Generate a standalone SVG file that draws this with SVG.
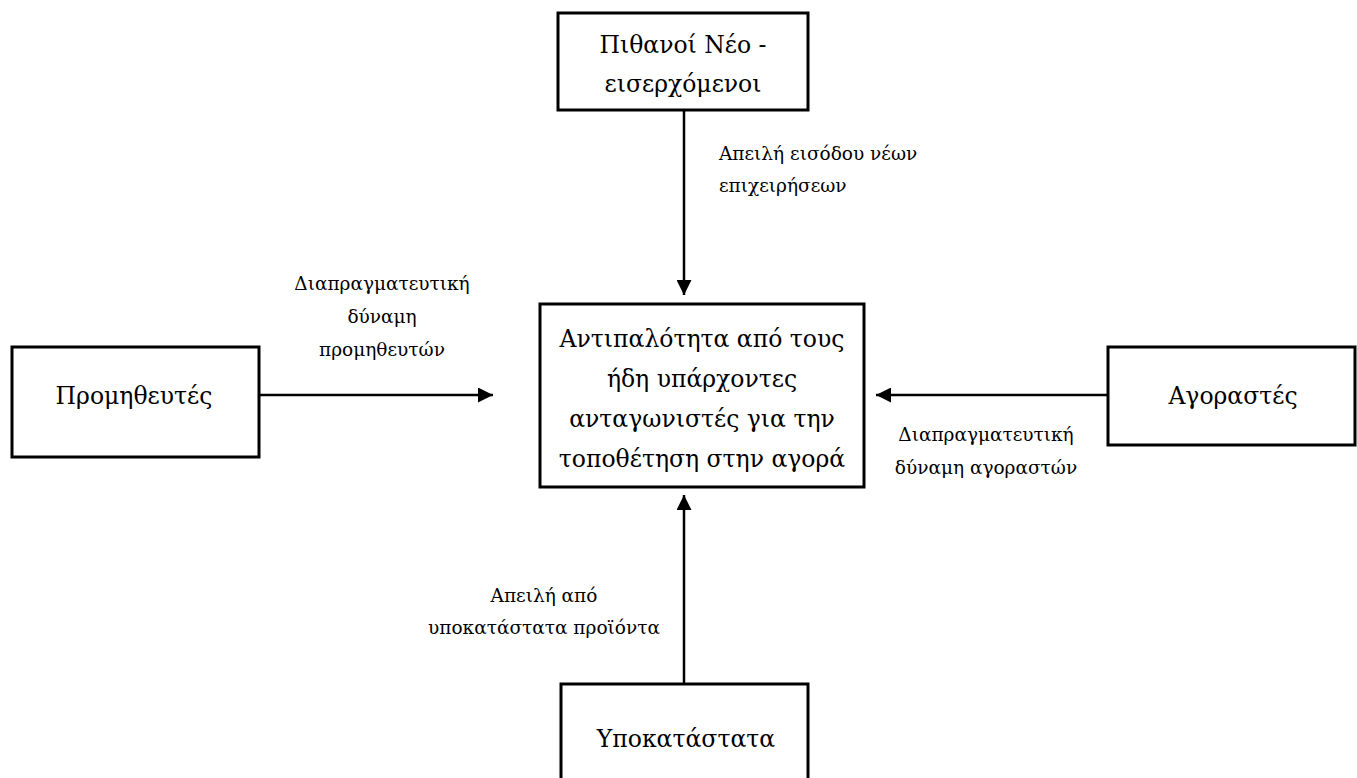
<svg xmlns="http://www.w3.org/2000/svg" width="1357" height="778" viewBox="0 0 1357 778">
<defs>
<style>
.box{fill:#fff;stroke:#000;stroke-width:3}
.nt{font-family:"DejaVu Serif","Liberation Serif",serif;font-size:23.5px;fill:#000;text-anchor:middle}
.lt{font-family:"DejaVu Serif","Liberation Serif",serif;font-size:18.5px;fill:#000}
.ln{stroke:#000;stroke-width:2.5;fill:none}
</style>
<marker id="ah" viewBox="0 0 10 10" refX="10" refY="5" markerWidth="6" markerHeight="6" markerUnits="strokeWidth" orient="auto">
<path d="M0,0 L10,5 L0,10 z" fill="#000"/>
</marker>
</defs>
<rect width="1357" height="778" fill="#fff"/>
<g id="connectors">
<line class="ln" x1="684" y1="110" x2="684" y2="295" marker-end="url(#ah)"/>
<line class="ln" x1="259" y1="395" x2="493" y2="395" marker-end="url(#ah)"/>
<line class="ln" x1="1108" y1="395" x2="876" y2="395" marker-end="url(#ah)"/>
<line class="ln" x1="684" y1="684" x2="684" y2="495" marker-end="url(#ah)"/>
<text class="lt" x="719" y="160">Απειλή εισόδου νέων</text>
<text class="lt" x="719" y="192">επιχειρήσεων</text>
<text class="lt" x="382" y="290" text-anchor="middle">Διαπραγματευτική</text>
<text class="lt" x="382" y="323" text-anchor="middle">δύναμη</text>
<text class="lt" x="382" y="356" text-anchor="middle">προμηθευτών</text>
<text class="lt" x="986" y="441" text-anchor="middle">Διαπραγματευτική</text>
<text class="lt" x="986" y="474" text-anchor="middle">δύναμη αγοραστών</text>
<text class="lt" x="544" y="602" text-anchor="middle">Απειλή από</text>
<text class="lt" x="544" y="634" text-anchor="middle">υποκατάστατα προϊόντα</text>
</g>
<g id="n-top">
<rect class="box" x="558" y="13" width="250" height="97"/>
<text class="nt" x="683" y="53">Πιθανοί Νέο -</text>
<text class="nt" x="683" y="92">εισερχόμενοι</text>
</g>
<g id="n-center">
<rect class="box" x="540" y="304" width="324" height="183"/>
<text class="nt" x="702" y="347">Αντιπαλότητα από τους</text>
<text class="nt" x="702" y="387">ήδη υπάρχοντες</text>
<text class="nt" x="702" y="427">ανταγωνιστές για την</text>
<text class="nt" x="702" y="467">τοποθέτηση στην αγορά</text>
</g>
<g id="n-left">
<rect class="box" x="12" y="347" width="247" height="110"/>
<text class="nt" x="134" y="404">Προμηθευτές</text>
</g>
<g id="n-right">
<rect class="box" x="1108" y="347" width="247" height="98"/>
<text class="nt" x="1233" y="404">Αγοραστές</text>
</g>
<g id="n-bottom">
<rect class="box" x="561" y="684" width="247" height="110"/>
<text class="nt" x="686" y="747">Υποκατάστατα</text>
</g>
</svg>
